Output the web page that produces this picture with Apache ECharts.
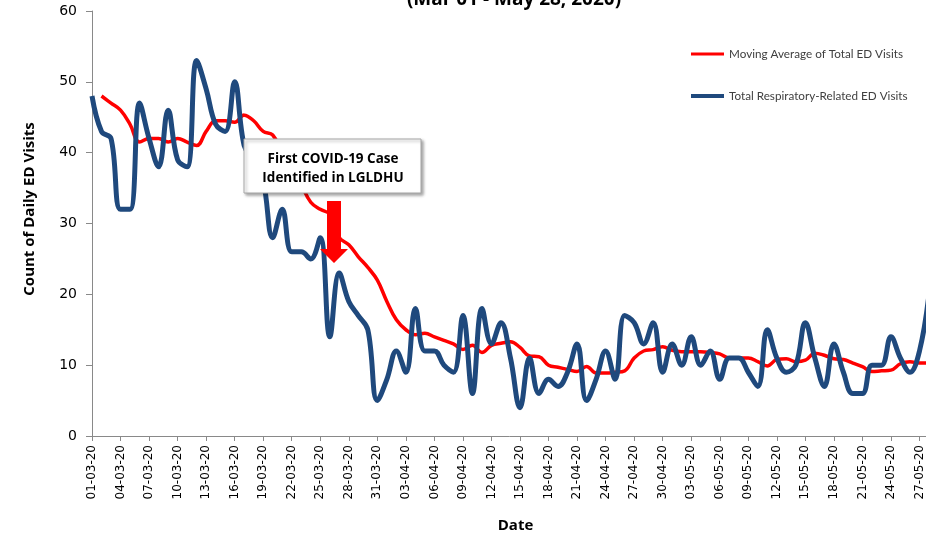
<!DOCTYPE html>
<html>
<head>
<meta charset="utf-8">
<script src="https://cdn.jsdelivr.net/npm/echarts@6/dist/echarts.min.js"></script>
<style>
  html, body { margin: 0; padding: 0; background: #fff; }
  #chart { width: 926px; height: 535px; }
</style>
</head>
<body>
<div id="chart"></div>
<script>
// dates shown on the x axis (one per day, 01-03-20 .. 28-05-20)
var dates = [
  '01-03-20','02-03-20','03-03-20','04-03-20','05-03-20','06-03-20','07-03-20','08-03-20','09-03-20','10-03-20',
  '11-03-20','12-03-20','13-03-20','14-03-20','15-03-20','16-03-20','17-03-20','18-03-20','19-03-20','20-03-20',
  '21-03-20','22-03-20','23-03-20','24-03-20','25-03-20','26-03-20','27-03-20','28-03-20','29-03-20','30-03-20',
  '31-03-20','01-04-20','02-04-20','03-04-20','04-04-20','05-04-20','06-04-20','07-04-20','08-04-20','09-04-20',
  '10-04-20','11-04-20','12-04-20','13-04-20','14-04-20','15-04-20','16-04-20','17-04-20','18-04-20','19-04-20',
  '20-04-20','21-04-20','22-04-20','23-04-20','24-04-20','25-04-20','26-04-20','27-04-20','28-04-20','29-04-20',
  '30-04-20','01-05-20','02-05-20','03-05-20','04-05-20','05-05-20','06-05-20','07-05-20','08-05-20','09-05-20',
  '10-05-20','11-05-20','12-05-20','13-05-20','14-05-20','15-05-20','16-05-20','17-05-20','18-05-20','19-05-20',
  '20-05-20','21-05-20','22-05-20','23-05-20','24-05-20','25-05-20','26-05-20','27-05-20','28-05-20'
]

// Moving Average of Total ED Visits (starts on day 2)
var movingAvg = [
  null, 48, 47, 46, 44, 41.5, 42, 42, 41.5, 42,
  41.5, 41, 43, 44.5, 44.5, 44.3, 45.3, 44.5, 43, 42.5,
  40, 38, 35.5, 33, 32, 31.3, 28, 27, 25.3, 23.8,
  22, 19, 16.4, 15, 14.3, 14.5, 14, 13.5, 13, 12.2,
  12.8, 11.8, 12.8, 13.1, 13.3, 12.5, 11.3, 11.2, 10, 9.7,
  9.4, 9.1, 9.8, 8.9, 8.9, 9, 9.2, 11, 12, 12.2,
  12.6, 12.1, 11.9, 11.9, 11.9, 11.8, 11.6, 11, 11, 11,
  10.5, 9.9, 10.8, 10.9, 10.5, 10.7, 11.7, 11.4, 10.9, 10.8,
  10.3, 9.8, 9.1, 9.2, 9.3, 10.2, 10.5, 10.3, 10.3
]

// Total Respiratory-Related ED Visits
var respVisits = [
  48, 43, 42, 32, 32, 47, 42, 38, 46, 39,
  38, 53, 49, 44, 43, 50, 41, 39, 36, 28,
  32, 26, 26, 25, 28, 14, 23, 19, 17, 15,
  5, 8, 12, 9, 18, 12, 12, 10, 9, 17,
  6, 18, 13, 16, 11, 4, 11, 6, 8, 7,
  9, 13, 5, 8, 12, 8, 17, 16, 13, 16,
  9, 13, 10, 14, 10, 12, 8, 11, 11, 9,
  7, 15, 11, 9, 10, 16, 11, 7, 13, 9,
  6, 6, 10, 10, 14, 11, 9, 12, 20
]

var yTicks = { min: 0, max: 60, interval: 10 }

var myChart = echarts.init(document.getElementById('chart'))

var axisColor = '#898989'
var legendText = { fontFamily: 'Lato', fontSize: 11.7, color: '#404040' }

myChart.setOption({
  backgroundColor: '#fff',
  animation: false,
  grid: {
    left: 92,
    top: 11,
    width: 837,
    height: 425,
    outerBoundsMode: 'none'
  },
  // two legends so each row sits where the original has it
  legend: [{
    left: 691,
    top: 48,
    padding: 0,
    icon: 'rect',
    itemWidth: 33,
    itemHeight: 3,
    textStyle: legendText,
    data: ['Moving Average of Total ED Visits']
  }, {
    left: 691,
    top: 90,
    padding: 0,
    icon: 'rect',
    itemWidth: 33,
    itemHeight: 4,
    textStyle: legendText,
    data: ['Total Respiratory-Related ED Visits']
  }],
  xAxis: {
    type: 'category',
    data: dates,
    boundaryGap: false,
    name: 'Date',
    nameLocation: 'middle',
    nameGap: 82,
    nameTextStyle: {
      fontFamily: 'Open Sans',
      fontWeight: 'bold',
      fontSize: 15,
      color: '#000',
      padding: [0, 0, 0, 10]
    },
    axisLine: { lineStyle: { color: axisColor, width: 1 } },
    axisTick: { show: true, interval: 2, length: 5, lineStyle: { color: axisColor } },
    axisLabel: {
      interval: 2,
      rotate: 90,
      margin: 9,
      fontFamily: 'DejaVu Sans',
      fontSize: 12,
      color: '#000'
    },
    splitLine: { show: false }
  },
  yAxis: {
    type: 'value',
    min: yTicks.min,
    max: yTicks.max,
    interval: yTicks.interval,
    axisLine: { show: true, lineStyle: { color: axisColor, width: 1 } },
    axisTick: { show: true, length: 6, lineStyle: { color: axisColor } },
    axisLabel: {
      margin: 15,
      fontFamily: 'DejaVu Sans',
      fontSize: 14,
      color: '#000'
    },
    splitLine: { show: false }
  },
  series: [{
    name: 'Moving Average of Total ED Visits',
    type: 'line',
    data: movingAvg,
    smooth: 0.4,
    symbol: 'none',
    color: '#ff0000',
    lineStyle: { color: '#ff0000', width: 3.5 }
  }, {
    name: 'Total Respiratory-Related ED Visits',
    type: 'line',
    data: respVisits,
    smooth: 0.4,
    symbol: 'none',
    color: '#1f497d',
    lineStyle: { color: '#1f497d', width: 5 }
  }],
  graphic: [{
    // title, mostly cut off at the top edge like the original
    type: 'text',
    z: 100,
    style: {
      text: '(Mar 01 - May 28, 2020)',
      x: 514,
      y: 0,
      textAlign: 'center',
      textVerticalAlign: 'middle',
      font: 'bold 19px "Open Sans"',
      fill: '#000'
    }
  }, {
    // y axis title
    type: 'text',
    z: 100,
    x: 30,
    y: 209,
    rotation: Math.PI / 2,
    style: {
      text: 'Count of Daily ED Visits',
      textAlign: 'center',
      textVerticalAlign: 'middle',
      font: 'bold 15px "Open Sans"',
      fill: '#000'
    }
  }, {
    type: 'rect',
    z: 100,
    shape: { x: 244, y: 139, width: 177, height: 54 },
    style: {
      fill: '#fff',
      stroke: '#a6a6a6',
      lineWidth: 1,
      shadowBlur: 3,
      shadowOffsetX: 2,
      shadowOffsetY: 2,
      shadowColor: 'rgba(0,0,0,0.35)'
    }
  }, {
    type: 'text',
    z: 101,
    style: {
      text: 'First COVID-19 Case\nIdentified in LGLDHU',
      x: 333,
      y: 168.5,
      textAlign: 'center',
      textVerticalAlign: 'middle',
      font: 'bold 13.5px "Open Sans"',
      lineHeight: 18.5,
      fill: '#000'
    }
  }, {
    type: 'polygon',
    z: 101,
    shape: {
      points: [[327, 201], [341, 201], [341, 249], [348, 249], [334, 263], [320, 249], [327, 249]]
    },
    style: { fill: '#ff0000' }
  }]
})
</script>
</body>
</html>
